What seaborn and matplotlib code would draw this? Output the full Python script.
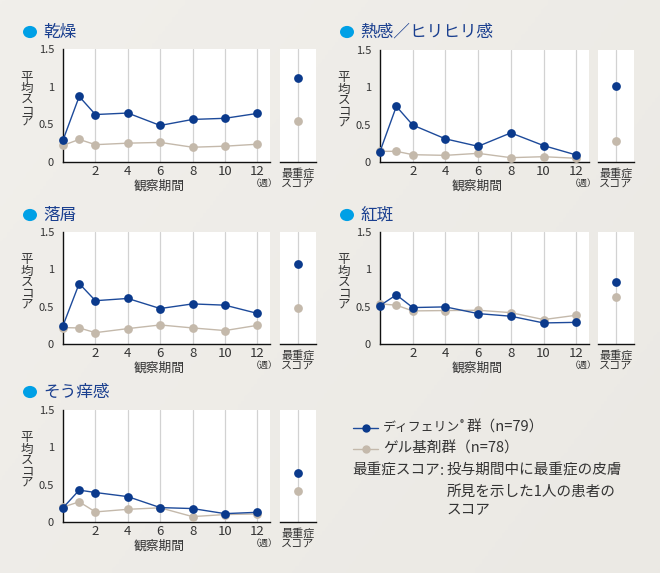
import matplotlib
matplotlib.use("Agg")
import matplotlib.pyplot as plt
import seaborn as sns
import numpy as np
from matplotlib.lines import Line2D
from matplotlib.patches import Circle
from matplotlib.colors import LinearSegmentedColormap

sns.set_theme(style="white")
plt.rcParams['font.family'] = ['Noto Sans CJK JP', 'DejaVu Sans']

# ---- data ----
weeks = [0, 1, 2, 4, 6, 8, 10, 12]
titles = ["乾燥", "熱感／ヒリヒリ感", "落屑", "紅斑", "そう痒感"]
differin = [
    [0.29, 0.87, 0.63, 0.65, 0.485, 0.565, 0.58, 0.645],
    [0.14, 0.745, 0.495, 0.31, 0.21, 0.39, 0.22, 0.094],
    [0.246, 0.81, 0.58, 0.61, 0.475, 0.537, 0.52, 0.41],
    [0.515, 0.658, 0.488, 0.497, 0.407, 0.372, 0.282, 0.29],
    [0.19, 0.427, 0.395, 0.34, 0.193, 0.18, 0.112, 0.13],
]
gel = [
    [0.22, 0.30, 0.23, 0.25, 0.26, 0.196, 0.21, 0.236],
    [0.143, 0.143, 0.098, 0.089, 0.116, 0.058, 0.071, 0.05],
    [0.22, 0.215, 0.152, 0.206, 0.255, 0.215, 0.18, 0.25],
    [0.537, 0.52, 0.443, 0.448, 0.452, 0.42, 0.327, 0.385],
    [0.2, 0.27, 0.135, 0.17, 0.19, 0.072, 0.10, 0.108],
]
max_differin = [1.12, 1.02, 1.066, 0.828, 0.66]
max_gel = [0.54, 0.28, 0.488, 0.627, 0.41]
yticks = [0, 0.5, 1, 1.5]
ytick_labels = ["0", "0.5", "1", "1.5"]
xticks = [2, 4, 6, 8, 10, 12]
series_names = ["ディフェリン", "ゲル基剤群（n=78）"]

W, H = 660, 573
BG = "#eeece7"
BLUE = "#0b3a8c"
BLUE_LINE = "#1d4a9a"
GRAY = "#c4b9ab"
TXT = "#333333"
TITLE_C = "#1a3f8f"
CYAN = "#00a0e6"

fig = plt.figure(figsize=(W / 100, H / 100), dpi=100, facecolor=BG)

# subtle background gradient
bgax = fig.add_axes([0, 0, 1, 1], zorder=-10)
gx, gy = np.meshgrid(np.linspace(0, 1, 200), np.linspace(0, 1, 200))
grad = 0.6 * gx + 0.4 * gy
cmap = LinearSegmentedColormap.from_list("bg", ["#f1efeb", "#ebe9e4"])
bgax.imshow(grad, cmap=cmap, aspect="auto", extent=[0, 1, 0, 1], origin="upper")
bgax.axis("off")


def rect(l, t, r, b):
    return [l / W, 1 - b / H, (r - l) / W, (b - t) / H]


def ftext(x, y, s, **kw):
    kw.setdefault("color", TXT)
    kw.setdefault("va", "center")
    return fig.text(x / W, 1 - y / H, s, **kw)


# (main l, t, r, b), max (l, r), title y, title x
layout = [
    ((63, 49, 270, 162), (280, 316), 32, 30),
    ((380, 50, 589, 162), (598, 634), 32, 347),
    ((63, 232, 270, 344), (280, 316), 215, 30),
    ((380, 232, 589, 344), (598, 634), 215, 347),
    ((63, 410, 270, 522), (280, 316), 392, 30),
]

MS = 6.3
for i, ((l, t, r, b), (ml, mr), ty, tx) in enumerate(layout):
    ax = fig.add_axes(rect(l, t, r, b))
    ax.set_facecolor("white")
    for xv in xticks:
        ax.axvline(xv, color="#d2d2d2", lw=0.9, zorder=0)
    sns.lineplot(x=weeks, y=gel[i], ax=ax, color=GRAY, lw=1.0, marker="o",
                 markersize=MS, markeredgewidth=0, markerfacecolor=GRAY,
                 clip_on=False, zorder=3)
    sns.lineplot(x=weeks, y=differin[i], ax=ax, color=BLUE_LINE, lw=1.0, marker="o",
                 markersize=MS, markeredgewidth=0, markerfacecolor=BLUE,
                 clip_on=False, zorder=4)
    ax.set_xlim(0, 12.78)
    ax.set_ylim(0, 1.5)
    ax.set_xticks(xticks)
    ax.set_xticklabels([str(v) for v in xticks], fontsize=9.5, color=TXT)
    ax.set_yticks(yticks)
    ax.set_yticklabels(ytick_labels, fontsize=8, color=TXT)
    ax.tick_params(axis="x", length=0, pad=2)
    ax.tick_params(axis="y", length=1.5, width=1.2, color=TXT, pad=5, direction="out")
    for s in ["top", "right"]:
        ax.spines[s].set_visible(False)
    for s in ["left", "bottom"]:
        ax.spines[s].set_visible(True)
        ax.spines[s].set_color("#111111")
        ax.spines[s].set_linewidth(1.0)
    ax.set_xlabel("")
    ax.set_ylabel("")

    # max panel
    mx = fig.add_axes(rect(ml, t, mr, b))
    mx.set_facecolor("white")
    mx.axvline(0, color="#d2d2d2", lw=0.9, zorder=0)
    sns.scatterplot(x=[0], y=[max_gel[i]], ax=mx, color=GRAY, s=MS ** 2, linewidth=0, zorder=3)
    sns.scatterplot(x=[0], y=[max_differin[i]], ax=mx, color=BLUE, s=MS ** 2, linewidth=0, zorder=4)
    mx.set_xlim(-1, 1)
    mx.set_ylim(0, 1.5)
    mx.set_xticks([])
    mx.set_yticks([])
    for s in ["top", "right", "left"]:
        mx.spines[s].set_visible(False)
    mx.spines["bottom"].set_visible(True)
    mx.spines["bottom"].set_color("#111111")
    mx.spines["bottom"].set_linewidth(1.0)

    # texts
    cx = (l + r) / 2 - 7
    ftext(cx, b + 24, "観察期間", fontsize=9.2, ha="center")
    ftext(r - 6, b + 21, "（週）", fontsize=6.5, ha="center")
    mc = (ml + mr) / 2
    ftext(mc, b + 11, "最重症", fontsize=8, ha="center")
    ftext(mc, b + 22, "スコア", fontsize=8, ha="center")
    ftext(l - 36, (t + b) / 2 - 6, "平\n均\nス\nコ\nア", fontsize=9, ha="center",
          linespacing=0.8)
    # title
    fig.patches.append(Circle((tx / W, 1 - ty / H), radius=7 / W, transform=fig.transFigure,
                              facecolor=CYAN, edgecolor="none"))
    ftext(tx + 13, ty, titles[i], fontsize=12, color=TITLE_C, ha="left")

# legend
for yy, c, mc_ in [(428, BLUE_LINE, BLUE), (449, GRAY, GRAY)]:
    fig.lines.append(Line2D([353 / W, 378 / W], [1 - yy / H, 1 - yy / H], transform=fig.transFigure,
                            color=c, lw=1.0))
    fig.lines.append(Line2D([365.5 / W], [1 - yy / H], transform=fig.transFigure,
                            marker="o", markersize=6, markeredgewidth=0, markerfacecolor=mc_, color=c))
LF = 10.5
ftext(383, 428, series_names[0], fontsize=9.3, ha="left")
ftext(459.5, 424, "®", fontsize=6, ha="left")
ftext(467, 428, "群（n=79）", fontsize=LF, ha="left")
ftext(383, 449, series_names[1], fontsize=LF, ha="left")
ftext(352, 471, "最重症スコア", fontsize=LF, ha="left")
ftext(440, 471, ":", fontsize=LF, ha="left")
ftext(447, 471, "投与期間中に最重症の皮膚", fontsize=LF, ha="left")
ftext(447, 492, "所見を示した1人の患者の", fontsize=LF, ha="left")
ftext(447, 510, "スコア", fontsize=LF, ha="left")

fig.savefig("out.png", dpi=100, facecolor=BG)
